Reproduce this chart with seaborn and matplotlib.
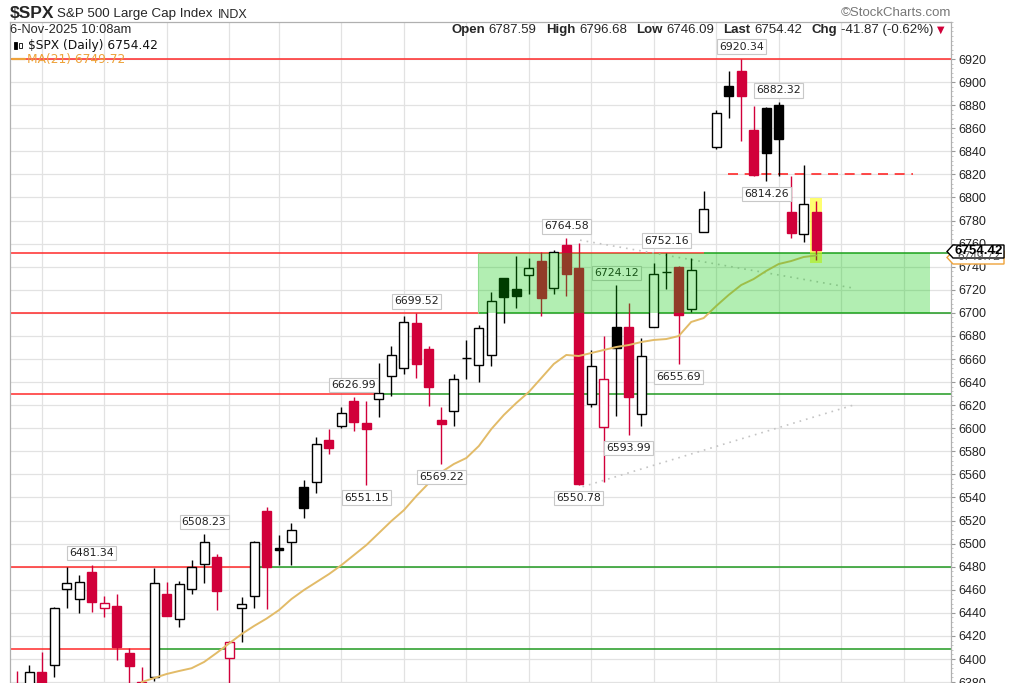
"""
$SPX daily candles with MA(21), support/resistance levels (StockCharts style)
"""

import numpy as np
import pandas as pd
import seaborn as sns
import matplotlib.pyplot as plt
from matplotlib.patches import Rectangle, Polygon
from matplotlib.ticker import MultipleLocator

# daily bars, index 0 = 7-Aug-2025 ... index 64 = 6-Nov-2025
opens = [6376, 6372, 6389, 6394.5, 6461, 6452, 6475.7, 6444.5, 6446, 6405.5,
         6380, 6384, 6456.3, 6434.6, 6460.6, 6482.3, 6488, 6401, 6444, 6455,
         6528.3, 6496.6, 6501.7, 6549.3, 6553, 6589.8, 6602.2, 6623.6, 6604.3, 6625,
         6645.3, 6652.4, 6691.5, 6668.7, 6607, 6615.2, 6660.5, 6654.8, 6663.5, 6729.9,
         6720.7, 6732.8, 6745, 6721.8, 6758.8, 6739.2, 6621, 6601.3, 6687.5, 6687.5,
         6612.3, 6688, 6735.5, 6740, 6703.1, 6770.3, 6843.5, 6896.6, 6909.6, 6858.5,
         6877.8, 6880.1, 6787.1, 6768.3, 6787.59]
highs = [6390, 6395, 6406, 6445.5, 6480, 6473, 6481.34, 6454.6, 6456, 6409.3,
         6393, 6478.6, 6467, 6467.6, 6485.8, 6508.23, 6491, 6416, 6454, 6502.2,
         6531.5, 6507.5, 6517.6, 6555, 6592.7, 6599.3, 6618, 6626.99, 6623.6, 6656.3,
         6671.3, 6697.5, 6699.52, 6671.3, 6618, 6647, 6676.5, 6689.5, 6717.8, 6730.5,
         6749.3, 6747.8, 6752.5, 6754.5, 6764.58, 6760.8, 6667.8, 6679.9, 6724.12, 6708.3,
         6677.9, 6743, 6752.16, 6740.6, 6747.8, 6805.6, 6875.8, 6909.6, 6920.34, 6879.3,
         6878.1, 6882.32, 6818.6, 6828.1, 6796.68]
lows = [6340, 6360, 6364, 6384.6, 6444.2, 6439.6, 6441, 6436.7, 6399, 6343,
        6360, 6381, 6437, 6428, 6456, 6465.6, 6442.4, 6360, 6415, 6444,
        6443, 6481.4, 6481.4, 6522, 6544.2, 6577.4, 6600.5, 6597.9, 6551.15, 6610,
        6628.2, 6647, 6643.3, 6619.3, 6569.22, 6602.2, 6642.7, 6640, 6654.2, 6690.9,
        6704, 6716.3, 6697.5, 6716.3, 6714.6, 6550.78, 6618.7, 6553.7, 6611, 6593.99,
        6602.2, 6688, 6720.4, 6655.69, 6701, 6770.3, 6841.7, 6868.6, 6849.2, 6818.6,
        6814.26, 6818.6, 6764.6, 6761.7, 6746.09]
closes = [6340, 6389, 6373, 6444.5, 6466, 6467, 6449, 6448.5, 6410, 6394.2,
          6370, 6466.1, 6437.3, 6465, 6480, 6501, 6459.2, 6414.5, 6447.7, 6501,
          6480, 6494.5, 6511.8, 6530.6, 6586.3, 6583.1, 6613, 6605, 6599, 6630.8,
          6663.5, 6692.3, 6655.7, 6636, 6603.4, 6642.7, 6661, 6687.1, 6710.3, 6714,
          6714.5, 6739.2, 6712.6, 6752.5, 6733.7, 6551.4, 6654, 6642.4, 6669.8, 6627.4,
          6662.6, 6733.7, 6735, 6698, 6737.2, 6790, 6873.5, 6888.2, 6888, 6819.5,
          6838.3, 6850.4, 6769, 6794.3, 6754.42]
prior_close = 6345.1

# MA(21), starting at bar 10
ma21_start = 10
ma21 = [6380, 6383.5, 6387, 6389.6, 6392, 6397.4, 6405.2, 6413.4, 6421.6, 6428.6,
        6435, 6442.4, 6452, 6459.8, 6466.7, 6473.6, 6481.4, 6490.1, 6498.8, 6509.2,
        6519.6, 6529, 6541.3, 6552.5, 6562, 6569, 6574.2, 6584.6, 6599.3, 6611.5,
        6621.9, 6631.4, 6643.5, 6655.7, 6663.5, 6662.6, 6665.2, 6667.8, 6670.4, 6672.1,
        6674.7, 6676.5, 6677.3, 6679.9, 6692.1, 6695.5, 6705.9, 6715.5, 6724.1, 6729.3,
        6736.3, 6742.3, 6744.9, 6748.4, 6749.72]

# first trading day of each week (vertical grid)
week_starts = [2, 7, 12, 17, 21, 26, 31, 36, 41, 46, 51, 56, 61, 66, 71]

# horizontal levels: red (resistance) left of the flip bar, green (support) right of it
levels = [6920, 6752, 6700, 6630, 6480, 6409]
level_flip = [None, 55, 37, 28.7, 18.9, 10.9]

# shaded zone and dashed level
zone_lo, zone_hi = 6700, 6752
zone_bars = (36.95, 73.1)
dash_level = 6820
dash_bars = (56.95, 71.76)

# dotted trend lines (bar, value) pairs
trend_lines = [((45.1, 6763), (66.96, 6721.5)),
               ((45.3, 6549.3), (67.0, 6620.1))]

# price callouts: bar, text, side
callouts = [(6, "6481.34", "above"), (15, "6508.23", "above"), (27, "6626.99", "above"),
            (28, "6551.15", "below"), (32, "6699.52", "above"), (34, "6569.22", "below"),
            (44, "6764.58", "above"), (45, "6550.78", "below"), (48, "6724.12", "above"),
            (49, "6593.99", "below"), (52, "6752.16", "above"), (53, "6655.69", "below"),
            (58, "6920.34", "above"), (60, "6814.26", "below"), (61, "6882.32", "above")]

y_ticks = list(range(6380, 6921, 20))

RED = "#d1003a"
BLACK = "#000000"
LRED = "#ff2a2a"
GREEN = "#219a21"

df = pd.DataFrame({"open": opens, "high": highs, "low": lows, "close": closes})
df["prev"] = df["close"].shift(1).fillna(prior_close)
df["up"] = df["close"] >= df["prev"]
df["filled"] = df["close"] < df["open"]

sns.set_style("white")
plt.rcParams["font.family"] = ["Liberation Sans", "DejaVu Sans"]

W, H = 1021, 683


def fx(x):
    return x / W


def fy(y):
    return 1 - y / H


fig = plt.figure(figsize=(W / 100, H / 100), dpi=100)
ax = fig.add_axes([fx(10), 0, (951 - 10) / W, (H - 22) / H])

# levels
x_left, x_right = -0.536, 74.8
for lv, flip in zip(levels, level_flip):
    if flip is None:
        ax.hlines(lv, x_left, x_right, color=LRED, lw=1.1, zorder=2)
    else:
        ax.hlines(lv, x_left, flip, color=LRED, lw=1.1, zorder=2)
        ax.hlines(lv, flip, x_right, color=GREEN, lw=1.1, zorder=2)

ax.hlines(dash_level, dash_bars[0], dash_bars[1], color=LRED, lw=1.2,
          linestyles=(0, (6, 4)), zorder=2)

for (x0, y0), (x1, y1) in trend_lines:
    ax.plot([x0, x1], [y0, y1], color="#c4c4c4", lw=1.2, ls=(0, (1, 3)), zorder=2)

# highlight on the latest bar
last = df.index[-1]
ax.add_patch(Rectangle((last - 0.5, df["low"].iloc[-1] - 2.5), 1.0,
                       df["high"].iloc[-1] - df["low"].iloc[-1] + 5,
                       facecolor="#ffff33", alpha=0.7, edgecolor="none", zorder=2.5))

# candles
for i, row in df.iterrows():
    col = BLACK if row["up"] else RED
    ax.vlines(i, row["low"], row["high"], color=col, lw=1.0, zorder=3)
    bottom = min(row["open"], row["close"])
    height = max(abs(row["close"] - row["open"]), 0.6)
    ax.bar(i, height, bottom=bottom, width=0.72,
           facecolor=col if row["filled"] else "white",
           edgecolor=col, lw=1.0, zorder=3.2)

# MA(21)
sns.lineplot(x=list(range(ma21_start, ma21_start + len(ma21))), y=ma21, ax=ax,
             color="#e2bb68", lw=1.4, zorder=4)

# callouts
for i, txt, side in callouts:
    anchor = df["high"].iloc[i] if side == "above" else df["low"].iloc[i]
    off = 12 if side == "above" else -13
    ax.annotate(txt, (i, anchor), xytext=(0, off), textcoords="offset pixels",
                ha="center", va="center", fontsize=7.8, color="#222222",
                family="DejaVu Sans", zorder=4.5,
                bbox=dict(boxstyle="square,pad=0.2", fc="white", ec="#c8c8c8", lw=0.8))

# shaded zone drawn over candles
ax.add_patch(Rectangle((zone_bars[0], zone_lo), zone_bars[1] - zone_bars[0],
                       zone_hi - zone_lo, facecolor="#00c800", alpha=0.3,
                       edgecolor="none", zorder=5))
ax.vlines(zone_bars[0], zone_lo, zone_hi, color="#8fdc8f", lw=0.8, zorder=5)

ax.set_xlim(x_left, x_right)
ax.set_ylim(6379.2, 6952.07)
ax.set_xlabel("")
ax.set_ylabel("")

ax.set_xticks(week_starts)
ax.set_xticklabels([])
ax.tick_params(axis="x", length=0)
ax.yaxis.tick_right()
ax.set_yticks(y_ticks)
ax.set_yticklabels([str(t) for t in y_ticks], fontsize=9, color="#222222")
ax.yaxis.set_minor_locator(MultipleLocator(4))
ax.tick_params(axis="y", which="major", length=3, color="#999999", pad=2)
ax.tick_params(axis="y", which="minor", length=1.5, color="#bbbbbb")
ax.grid(True, which="major", color="#e2e2e2", lw=0.9, zorder=0)
ax.set_axisbelow(True)
for side in ["left", "top", "right"]:
    ax.spines[side].set_color("#b0b0b0")
    ax.spines[side].set_linewidth(0.9)
ax.spines["bottom"].set_visible(False)

# header
fig.text(fx(10), fy(14), "$SPX", fontsize=12.5, weight="bold", va="center")
fig.text(fx(57), fy(14.5), "S&P 500 Large Cap Index", fontsize=9.6, va="center")
fig.text(fx(218), fy(14.5), "INDX", fontsize=9, va="center")
fig.text(fx(10), fy(30), "6-Nov-2025 10:08am", fontsize=9.3, va="center")
fig.text(fx(951), fy(13), "\u00a9StockCharts.com", fontsize=9.5, va="center",
         ha="right", color="#777777")

renderer = fig.canvas.get_renderer()
parts = [("Open", True, 4), ("6787.59", False, 9), ("High", True, 4), ("6796.68", False, 9),
         ("Low", True, 4), ("6746.09", False, 9), ("Last", True, 4), ("6754.42", False, 9),
         ("Chg", True, 4), ("-41.87 (-0.62%)", False, 4)]
xpos = 451
for s, bold, gap in parts:
    t = fig.text(fx(xpos), fy(30), s, fontsize=9.5, va="center",
                 weight="bold" if bold else "normal")
    xpos += t.get_window_extent(renderer).width + gap
fig.text(fx(xpos), fy(30), "\u25bc", fontsize=7, va="center", color=RED,
         family=["DejaVu Sans"])

# in-chart legend
fig.add_artist(Rectangle((fx(14), fy(49)), 3 / W, 7 / H, transform=fig.transFigure,
                         facecolor="black", edgecolor="black", lw=0.6))
fig.add_artist(Rectangle((fx(19), fy(48)), 3 / W, 5 / H, transform=fig.transFigure,
                         facecolor="white", edgecolor="black", lw=0.6))
fig.text(fx(28), fy(45), "$SPX (Daily) 6754.42", fontsize=8.8, va="center",
         family="DejaVu Sans", color="#111111")
fig.add_artist(plt.Line2D([fx(12), fx(25)], [fy(59), fy(59)], color="#eea23a", lw=1.6))
fig.text(fx(27), fy(59), "MA(21) 6749.72", fontsize=8.8, va="center",
         family="DejaVu Sans", color="#eea23a")


# price tags on the axis
def tag(y, txt, ec, tc, bold):
    pts = [(947, y), (953, y - 6.5), (1004, y - 6.5), (1004, y + 6.5), (953, y + 6.5)]
    fig.add_artist(Polygon([(fx(a), fy(b)) for a, b in pts], closed=True,
                           transform=fig.transFigure, facecolor="white",
                           edgecolor=ec, lw=1.0))
    fig.text(fx(979), fy(y), txt, fontsize=9.5 if bold else 8.5, va="center",
             ha="center", color=tc, weight="bold" if bold else "normal")


tag(257.5, "6749.72", "#eea23a", "#555555", False)
tag(251.5, "6754.42", "black", "black", True)

fig.savefig("out.png", dpi=100)
